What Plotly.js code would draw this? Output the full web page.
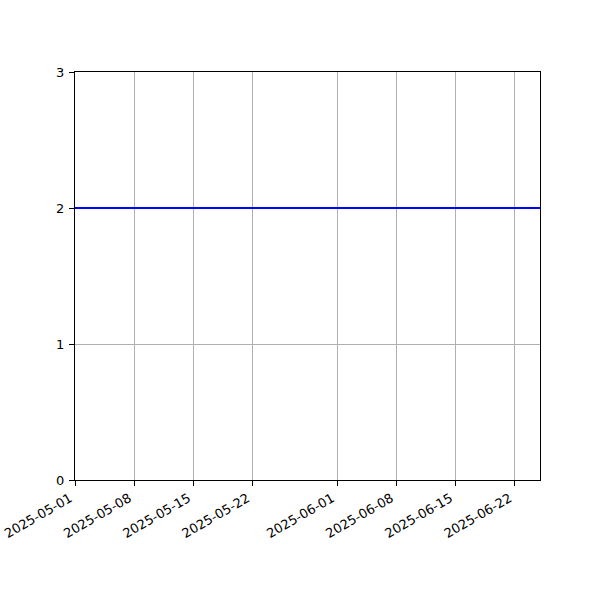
<!DOCTYPE html>
<html>
<head>
<meta charset="utf-8">
<script src="https://cdn.plot.ly/plotly-3.0.1.min.js"></script>
<style>
  body { margin: 0; background: #fff; }
  #chart { width: 600px; height: 600px; }
</style>
</head>
<body>
<div id="chart"></div>
<script>
// series: flat value over the whole date range
const dates = ['2025-05-01', '2025-06-25'];
const values = [2, 2];

const tickDates = ['2025-05-01', '2025-05-08', '2025-05-15', '2025-05-22',
                   '2025-06-01', '2025-06-08', '2025-06-15', '2025-06-22'];
const yTicks = [0, 1, 2, 3];

const trace = {
    x: dates,
    y: values,
    type: 'scatter',
    mode: 'lines',
    line: { color: '#0000ff', width: 2 },
    hoverinfo: 'skip'
};

const axisStyle = {
    showline: true,
    mirror: true,
    linecolor: '#000',
    linewidth: 1,
    ticks: 'outside',
    ticklen: 5,
    tickcolor: '#000',
    showgrid: true,
    gridcolor: '#b0b0b0',
    gridwidth: 1,
    zeroline: false,
    tickfont: { family: 'DejaVu Sans', size: 13, color: '#000' }
};

const layout = {
    width: 600,
    height: 600,
    margin: { l: 75, r: 60, t: 72, b: 120 },
    paper_bgcolor: '#fff',
    plot_bgcolor: '#fff',
    showlegend: false,
    xaxis: Object.assign({}, axisStyle, {
        type: 'date',
        range: ['2025-05-01', '2025-06-25'],
        tickmode: 'array',
        tickvals: tickDates,
        ticktext: tickDates,
        tickangle: -30,
        ticklabelshift: -5
    }),
    yaxis: Object.assign({}, axisStyle, {
        range: [0, 3],
        tickmode: 'array',
        tickvals: yTicks,
        ticktext: yTicks.map(String),
        ticklabelstandoff: 2
    })
};

Plotly.newPlot('chart', [trace], layout, { staticPlot: true });
</script>
</body>
</html>
